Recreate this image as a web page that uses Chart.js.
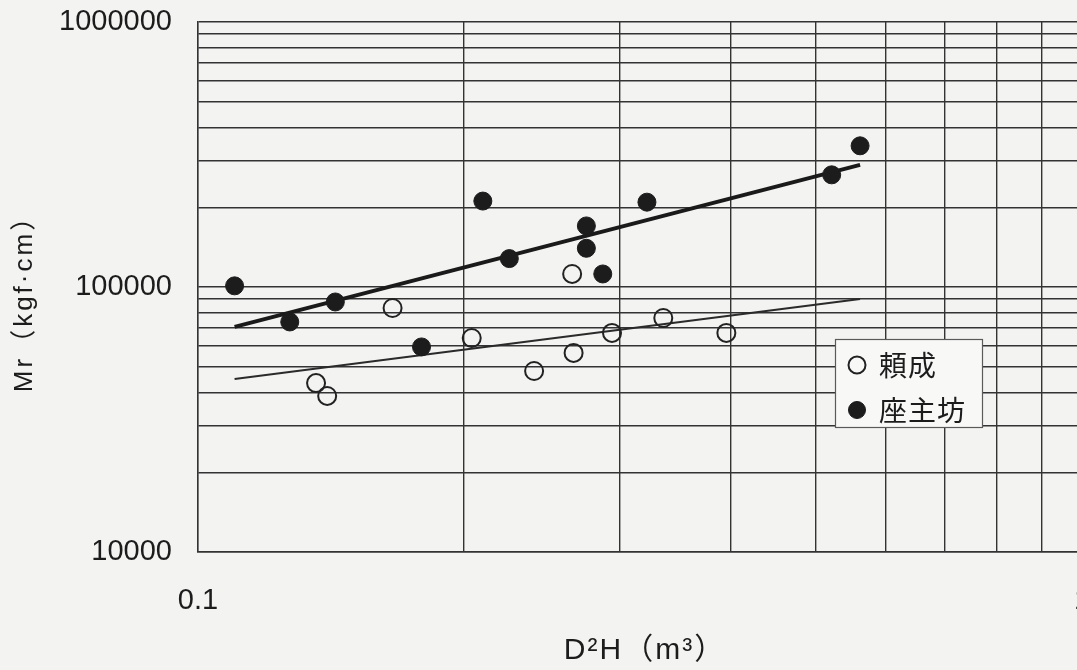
<!DOCTYPE html>
<html lang="ja">
<head>
<meta charset="utf-8">
<title>Mr と D²H の関係</title>
<script src="https://cdn.jsdelivr.net/npm/chart.js@4.4.1/dist/chart.umd.min.js"></script>
<style>
  html, body { margin: 0; padding: 0; background: #f3f3f2; overflow: hidden; }
  #wrap { width: 1100px; height: 670px; }
  canvas { display: block; }
</style>
</head>
<body>
<div id="wrap"><canvas id="chart" width="1100" height="670"></canvas></div>
<script>
// 頼成 — open circles
const yoriName = '頼成';
const yoriX = [0.136, 0.140, 0.166, 0.204, 0.240, 0.265, 0.266, 0.294, 0.336, 0.396];
const yoriY = [43400, 38800, 83300, 64200, 48200, 112000, 56400, 67100, 76400, 67100];

// 座主坊 — filled circles
const zasuName = '座主坊';
const zasuX = [0.110, 0.127, 0.143, 0.179, 0.210, 0.225, 0.275, 0.275, 0.287, 0.322, 0.521, 0.561];
const zasuY = [101000, 73800, 87800, 59400, 211000, 128000, 170000, 140000, 112000, 209000, 265000, 341000];

// power-law regression lines (end points)
const fitX = [0.11, 0.561];
const yoriFitY = [45000, 90100];
const zasuFitY = [70700, 289000];

// axes
const xRange = [0.1, 1];
const yRange = [10000, 1000000];
const xTickLabels = [0.1, 1];
const yTickLabels = [10000, 100000, 1000000];
const xTitle = 'D²H（m³）';
const yTitle = 'Mr（kgf·cm）';

const ink = '#1c1c1c';
const gridColor = '#333333';
const paper = '#f3f3f2';
const latin = '"Liberation Sans", Arial, "Noto Sans CJK JP", sans-serif';
const cjk = '"Noto Sans CJK JP", "Liberation Sans", sans-serif';

// 1,2,...,9 × 10^n lines of log paper between min and max
function logGrid(min, max) {
  const out = [];
  const e0 = Math.floor(Math.log10(min));
  const e1 = Math.ceil(Math.log10(max));
  for (let e = e0; e <= e1; e++) {
    for (let m = 1; m <= 9; m++) {
      const v = +(m * Math.pow(10, e)).toPrecision(6);
      if (v >= min * 0.9999 && v <= max * 1.0001) out.push(v);
    }
  }
  return out;
}

function labelFor(list) {
  return function (value) {
    return list.some(t => Math.abs(t - value) / t < 1e-6) ? String(value) : '';
  };
}

const pairs = (xs, ys) => xs.map((x, i) => ({ x: x, y: ys[i] }));

const paperBackground = {
  id: 'paperBackground',
  beforeDraw(chart) {
    const { ctx, width, height } = chart;
    ctx.save();
    ctx.fillStyle = paper;
    ctx.fillRect(0, 0, width, height);
    ctx.restore();
  }
};

// axis captions
const axisCaptions = {
  id: 'axisCaptions',
  afterDraw(chart, args, opts) {
    const ctx = chart.ctx;
    ctx.save();
    ctx.fillStyle = ink;
    ctx.textAlign = 'center';
    ctx.textBaseline = 'middle';

    ctx.font = opts.xFont;
    ctx.letterSpacing = opts.xSpacing;
    ctx.fillText(xTitle, opts.xAt[0], opts.xAt[1]);

    ctx.translate(opts.yAt[0], opts.yAt[1]);
    ctx.rotate(-Math.PI / 2);
    ctx.font = opts.yFont;
    ctx.letterSpacing = opts.ySpacing;
    ctx.fillText(yTitle, 0, 0);
    ctx.restore();
  }
};

// boxed legend placed inside the plot
const boxLegend = {
  id: 'boxLegend',
  afterDatasetsDraw(chart, args, opts) {
    const ctx = chart.ctx;
    const { left, top, width, height, rowY, markX, textX, radius } = opts;
    ctx.save();
    ctx.fillStyle = '#f8f8f7';
    ctx.fillRect(left, top, width, height);
    ctx.strokeStyle = '#5a5a5a';
    ctx.lineWidth = 1.2;
    ctx.strokeRect(left + 0.5, top + 0.5, width - 1, height - 1);

    ctx.font = opts.font;
    ctx.textBaseline = 'middle';
    ctx.textAlign = 'left';
    opts.items.forEach((idx, row) => {
      const ds = chart.data.datasets[idx];
      const y = top + rowY[row];
      ctx.beginPath();
      ctx.arc(left + markX, y, radius, 0, Math.PI * 2);
      if (ds.pointBackgroundColor !== 'transparent') {
        ctx.fillStyle = ds.pointBackgroundColor;
        ctx.fill();
      }
      ctx.lineWidth = ds.pointBorderWidth;
      ctx.strokeStyle = ds.pointBorderColor;
      ctx.stroke();
      ctx.fillStyle = ink;
      ctx.letterSpacing = '1px';
      ctx.fillText(ds.label, left + textX, y);
    });
    ctx.restore();
  }
};

new Chart(document.getElementById('chart'), {
  type: 'scatter',
  data: {
    datasets: [
      {
        label: zasuName,
        data: pairs(zasuX, zasuY),
        pointRadius: 9,
        pointHoverRadius: 9,
        pointBackgroundColor: ink,
        pointBorderColor: ink,
        pointBorderWidth: 1
      },
      {
        label: yoriName,
        data: pairs(yoriX, yoriY),
        pointRadius: 9,
        pointHoverRadius: 9,
        pointBackgroundColor: 'transparent',
        pointBorderColor: '#222222',
        pointBorderWidth: 2
      },
      {
        label: zasuName + ' 回帰',
        data: pairs(fitX, zasuFitY),
        showLine: true,
        borderColor: '#1a1a1a',
        borderWidth: 4,
        pointRadius: 0,
        pointHoverRadius: 0
      },
      {
        label: yoriName + ' 回帰',
        data: pairs(fitX, yoriFitY),
        showLine: true,
        borderColor: '#2a2a2a',
        borderWidth: 2,
        pointRadius: 0,
        pointHoverRadius: 0
      }
    ]
  },
  options: {
    responsive: false,
    animation: false,
    devicePixelRatio: 1,
    layout: { padding: { left: 0, top: 22, right: 18, bottom: 0 } },
    scales: {
      x: {
        type: 'logarithmic',
        position: 'bottom',
        min: xRange[0],
        max: xRange[1],
        afterBuildTicks: s => { s.ticks = logGrid(xRange[0], xRange[1]).map(v => ({ value: v })); },
        afterFit: s => {
          s.height = 118;
          s.paddingLeft = 0; s.paddingRight = 0; s.paddingTop = 0; s.paddingBottom = 0;
        },
        grid: { color: gridColor, lineWidth: 1.4, drawTicks: false },
        border: { color: gridColor, width: 1.4 },
        ticks: {
          autoSkip: false,
          maxRotation: 0,
          padding: 32,
          color: ink,
          font: { family: latin, size: 29 },
          callback: labelFor(xTickLabels)
        }
      },
      y: {
        type: 'logarithmic',
        position: 'left',
        min: yRange[0],
        max: yRange[1],
        afterBuildTicks: s => { s.ticks = logGrid(yRange[0], yRange[1]).map(v => ({ value: v })); },
        afterFit: s => {
          s.width = 198;
          s.paddingLeft = 0; s.paddingRight = 0; s.paddingTop = 0; s.paddingBottom = 0;
        },
        grid: { color: gridColor, lineWidth: 1.4, drawTicks: false },
        border: { color: gridColor, width: 1.4 },
        ticks: {
          autoSkip: false,
          padding: 26,
          color: ink,
          font: { family: latin, size: 29 },
          callback: labelFor(yTickLabels)
        }
      }
    },
    plugins: {
      legend: { display: false },
      tooltip: { enabled: false },
      axisCaptions: {
        xAt: [645, 651],
        xFont: '30px ' + latin,
        xSpacing: '2px',
        yAt: [25, 297],
        yFont: '26px ' + latin,
        ySpacing: '3px'
      },
      boxLegend: {
        left: 835, top: 339, width: 148, height: 89,
        rowY: [26, 71],
        markX: 22, textX: 44, radius: 8.5,
        font: '28px ' + cjk,
        items: [1, 0]
      }
    }
  },
  plugins: [paperBackground, axisCaptions, boxLegend]
});
</script>
</body>
</html>
